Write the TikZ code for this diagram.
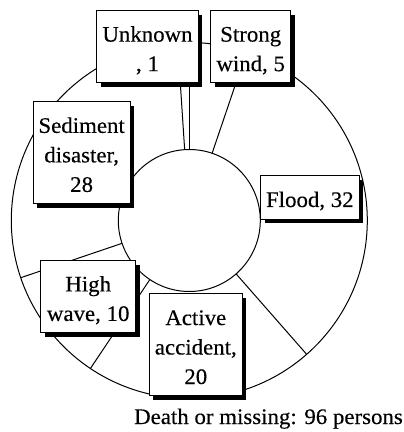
\documentclass[tikz,border=0pt]{standalone}
\usepackage{fontspec}
\setmainfont[FakeStretch=1.03,FakeBold=0.3]{Liberation Serif}
\begin{document}
\begin{tikzpicture}[x=1pt,y=1pt,
  txt/.style={font=\fontsize{22.2}{29.5}\selectfont},
  lbl/.style={txt, draw=black, line width=1pt, fill=white, align=center, inner sep=0pt,
    preaction={fill=black, transform canvas={xshift=3.8pt, yshift=-4pt}}},
  ring/.style={draw=black, line width=1pt}]
\useasboundingbox (0,0) rectangle (404,432);
\coordinate (c) at (189.3,211.5);
\draw[ring] (c) circle[radius=178];
\draw[ring] (c) circle[radius=71];
\foreach \a in {90,71.25,-48.75,-123.75,-161.25,93.75}
  \draw[ring, shift={(c)}] (\a:71) -- (\a:178);
\node[lbl, minimum width=101.6pt, minimum height=71.7pt] (unknown) at (147.5,385.15)
  {\rule{0pt}{23pt}Unknown\\, 1\rule[-4pt]{0pt}{4pt}};
\node[lbl, minimum width=80pt, minimum height=71.7pt] (strong) at (250.7,385.15)
  {\rule{0pt}{23pt}Strong\\wind, 5\rule[-4pt]{0pt}{4pt}};
\node[lbl, minimum width=96.7pt, minimum height=102.3pt] (sediment) at (81.65,279.15)
  {\rule{0pt}{23pt}Sediment\\disaster,\\28\rule[-4pt]{0pt}{4pt}};
\node[lbl, minimum width=98.3pt, minimum height=43.6pt] (flood) at (309.85,234.5)
  {\rule[-4pt]{0pt}{27pt}Flood, 32};
\node[lbl, minimum width=95pt, minimum height=72pt] (high) at (88.2,135.3)
  {\rule{0pt}{23pt}High\\wave, 10\rule[-4pt]{0pt}{4pt}};
\node[lbl, minimum width=93pt, minimum height=102pt] (active) at (195.8,87)
  {\rule{0pt}{23pt}Active\\accident,\\20\rule[-4pt]{0pt}{4pt}};
\node[txt, anchor=base, inner sep=0pt] (caption) at (268.5,8) {Death or missing: 96 persons};
\end{tikzpicture}
\end{document}
